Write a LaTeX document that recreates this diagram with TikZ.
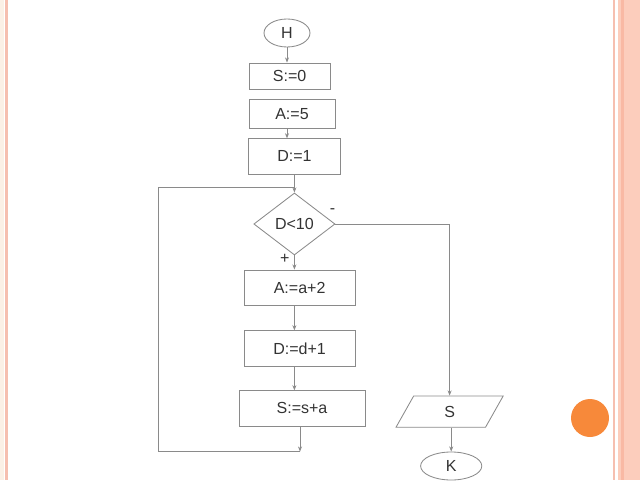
\documentclass[tikz,border=0pt]{standalone}
\usepackage{fontspec}
\setmainfont{Liberation Sans}
\usepackage{tikz}
\usetikzlibrary{positioning, shapes.geometric, arrows.meta, calc}

\definecolor{lineg}{HTML}{8A8A8A}
\definecolor{textg}{HTML}{333333}
\definecolor{framepink}{HTML}{F6BFB0}
\definecolor{framesalmon}{HTML}{FCCDBC}
\definecolor{framedark}{HTML}{F9B9A4}
\definecolor{framebeige}{HTML}{FBF0E6}
\definecolor{dotorange}{HTML}{F7893A}

\begin{document}
\begin{tikzpicture}[
  font=\fontsize{11.4}{13}\selectfont,
  every node/.style={text=textg},
  opbox/.style={rectangle, draw=lineg, line width=0.6pt, inner sep=0pt,
                minimum height=0.88cm},
  term/.style={ellipse, draw=lineg, line width=0.6pt, inner sep=0pt,
               minimum width=1.15cm, minimum height=0.7cm},
  cond/.style={diamond, draw=lineg, line width=0.6pt, inner sep=0pt,
               minimum width=2.03cm, minimum height=1.55cm},
  iobox/.style={trapezium, trapezium left angle=77, trapezium right angle=103,
                trapezium stretches=true, draw=lineg, line width=0.6pt,
                inner sep=0pt, minimum width=2.68cm, minimum height=0.78cm},
  arr/.style={-{Stealth[length=1.3mm, width=1mm]}, lineg, line width=0.6pt},
  line/.style={lineg, line width=0.6pt},
]
\useasboundingbox (0,0) rectangle (16,12);

%% slide frame
\fill[framebeige] (0,0) rectangle (0.11,12);
\fill[framepink]  (0.12,0) rectangle (0.19,12);
\fill[framepink]  (15.32,0) rectangle (15.38,12);
\fill[framesalmon] (15.45,0) rectangle (16,12);
\fill[framedark]  (15.52,0) rectangle (15.6,12);
\fill[dotorange]  (14.75,1.55) circle (0.475);

%% initialisation
\node[term] (H) at (7.175,11.175) {H};
\node[opbox, minimum width=2.03cm, minimum height=0.65cm] (s0) at (7.24,10.1) {S:=0};
\node[opbox, minimum width=2.15cm, minimum height=0.73cm] (a5) at (7.3,9.16) {A:=5};
\node[opbox, minimum width=2.28cm] (d1) at (7.36,8.09) {D:=1};

%% loop
\node[cond] (test) at (7.36,6.4) {D<10};
\node[opbox, minimum width=2.78cm] (aa2) at (7.49,4.81) {A:=a+2};
\node[opbox, minimum width=2.78cm] (dd1) at (7.49,3.29) {D:=d+1};
\node[opbox, minimum width=3.15cm] (ssa) at (7.55,1.79) {S:=s+a};

%% output
\node[iobox] (outS) at (11.24,1.71) {S};
\node[term, minimum width=1.53cm] (K) at (11.28,0.35) {K};

\node (minus) at ($(test.east)+(-0.07,0.32)$) {-};
\node (plus)  at ($(test.south)+(-0.24,-0.08)$) {+};

\coordinate (join) at ($(test.north)+(0,0.12)$);
\coordinate (loopend) at ($(ssa.south)+(-0.05,-0.63)$);

\draw[arr] (H.south) -- (H.south |- s0.north);
\draw[arr] (a5.south -| H.south) -- (H.south |- d1.north);
\draw[arr] (d1.south -| test.north) -- (test.north);
\draw[arr] (test.south) -- (test.south |- aa2.north);
\draw[arr] (test.south |- aa2.south) -- (test.south |- dd1.north);
\draw[arr] (test.south |- dd1.south) -- (test.south |- ssa.north);
\draw[arr] (ssa.south -| loopend) -- (loopend);
\draw[line] (loopend) -- ++(-3.55,0) |- (join);
\draw[arr] (test.east) -| (outS.north);
\draw[arr] (outS.south -| K.north) -- (K.north);

\end{tikzpicture}
\end{document}
